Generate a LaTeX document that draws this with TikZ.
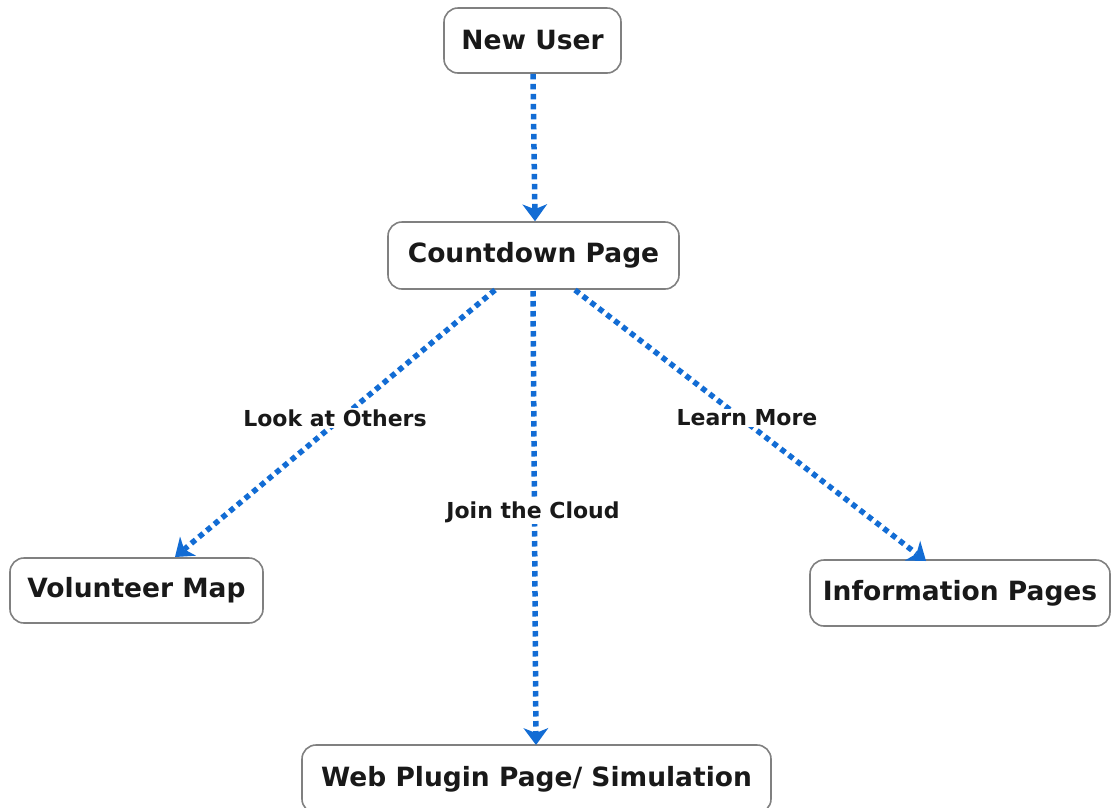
\documentclass[tikz,border=0pt]{standalone}
\usepackage{fontspec}
\setmainfont{DejaVu Sans}
\usetikzlibrary{arrows.meta}
\definecolor{flowblue}{RGB}{18,108,212}
\definecolor{boxgray}{RGB}{128,128,128}
\definecolor{inkdark}{RGB}{25,25,25}
\tikzset{
  pagebox/.style={draw=boxgray, line width=1.6pt, rounded corners=14pt, fill=white,
    text=inkdark, font=\bfseries\fontsize{26.5}{31}\selectfont, inner sep=0pt},
  flow/.style={draw=flowblue, line width=5.5pt, dash pattern=on 5.5pt off 4.5pt,
    -{Stealth[length=17pt,width=25pt,inset=5pt,line width=0pt,fill=flowblue]}},
  flowlabel/.style={fill=white, text=inkdark, inner sep=1pt,
    font=\bfseries\fontsize{22}{26}\selectfont}
}
\begin{document}
\begin{tikzpicture}[x=1pt,y=-1pt]
\useasboundingbox (0,0) rectangle (1111,807);

\node[pagebox, minimum width=177pt, minimum height=65pt] (user) at (532.5,40.5) {New User};
\node[pagebox, minimum width=291pt, minimum height=67pt] (count) at (533.5,255.5) {Countdown Page};
\node[pagebox, minimum width=253pt, minimum height=65pt] (map) at (136.5,590.5) {Volunteer Map};
\node[pagebox, minimum width=300pt, minimum height=66pt] (info) at (960,593) {Information Pages};
\node[pagebox, minimum width=469pt, minimum height=68pt] (web) at (536.5,779) {Web Plugin Page/ Simulation};

\coordinate (cl) at (495,290);
\coordinate (cr) at (575,290);
\coordinate (cm) at (533,291);

\draw[flow] (user.south -| 533,0) -- (count.north -| 535,0);
\draw[flow] (cl) -- (175,557);
\draw[flow] (cr) -- (926,561);
\draw[flow] (cm) -- (536,745);

\node[flowlabel] (others) at (335,418) {Look at Others};
\node[flowlabel] (learn) at (747,418) {Learn More};
\node[flowlabel] (join) at (533,512) {Join the Cloud};
\end{tikzpicture}
\end{document}
